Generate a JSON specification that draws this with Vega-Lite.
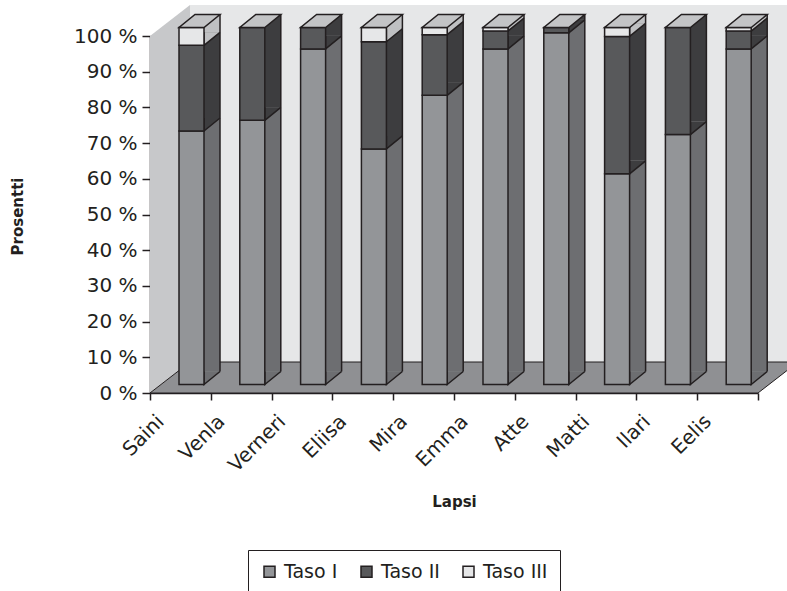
{
  "$schema": "https://vega.github.io/schema/vega-lite/v6.json",
  "width": 608,
  "height": 357,
  "autosize": {"type": "none"},
  "padding": {"left": 150, "top": 36, "right": 29, "bottom": 198},
  "background": "white",
  "config": {
    "view": {"stroke": null},
    "font": "DejaVu Sans",
    "axisY": {
      "title": "Prosentti", "titleFontSize": 15, "titleFontWeight": "bold", "titleColor": "#231f20",
      "titleX": -133, "titleY": 180, "titleAlign": "center", "titleBaseline": "middle", "titleAngle": -90,
      "labelFontSize": 20, "labelColor": "#231f20", "labelPadding": 5,
      "tickSize": 8, "tickColor": "#231f20", "tickWidth": 1.5,
      "domainColor": "#231f20", "domainWidth": 1.5, "grid": false
    }
  },
  "data": {
    "values": [
      {"Lapsi": "Saini", "Taso": "Taso I", "value": 71},
      {"Lapsi": "Saini", "Taso": "Taso II", "value": 24},
      {"Lapsi": "Saini", "Taso": "Taso III", "value": 5},
      {"Lapsi": "Venla", "Taso": "Taso I", "value": 74},
      {"Lapsi": "Venla", "Taso": "Taso II", "value": 26},
      {"Lapsi": "Verneri", "Taso": "Taso I", "value": 94},
      {"Lapsi": "Verneri", "Taso": "Taso II", "value": 6},
      {"Lapsi": "Eliisa", "Taso": "Taso I", "value": 66},
      {"Lapsi": "Eliisa", "Taso": "Taso II", "value": 30},
      {"Lapsi": "Eliisa", "Taso": "Taso III", "value": 4},
      {"Lapsi": "Mira", "Taso": "Taso I", "value": 81},
      {"Lapsi": "Mira", "Taso": "Taso II", "value": 17},
      {"Lapsi": "Mira", "Taso": "Taso III", "value": 2},
      {"Lapsi": "Emma", "Taso": "Taso I", "value": 94},
      {"Lapsi": "Emma", "Taso": "Taso II", "value": 5},
      {"Lapsi": "Emma", "Taso": "Taso III", "value": 1},
      {"Lapsi": "Atte", "Taso": "Taso I", "value": 98.5},
      {"Lapsi": "Atte", "Taso": "Taso II", "value": 1.5},
      {"Lapsi": "Matti", "Taso": "Taso I", "value": 59},
      {"Lapsi": "Matti", "Taso": "Taso II", "value": 38.5},
      {"Lapsi": "Matti", "Taso": "Taso III", "value": 2.5},
      {"Lapsi": "Ilari", "Taso": "Taso I", "value": 70},
      {"Lapsi": "Ilari", "Taso": "Taso II", "value": 30},
      {"Lapsi": "Eelis", "Taso": "Taso I", "value": 94},
      {"Lapsi": "Eelis", "Taso": "Taso II", "value": 5},
      {"Lapsi": "Eelis", "Taso": "Taso III", "value": 1}
    ]
  },
  "transform": [
    {"stack": "value", "groupby": ["Lapsi"], "sort": [{"field": "Taso", "order": "ascending"}], "as": ["v0", "v1"]}
  ],
  "layer": [
    {
      "data": {"values": [{"wall": "side"}]},
      "mark": {"type": "point", "filled": true, "opacity": 1, "size": 4, "fill": "#c7c8ca", "strokeWidth": 0,
               "shape": "M-304,-357 L-264,-388 L-264,-31 L-304,0 Z"},
      "encoding": {"y": {"datum": 0, "type": "quantitative", "scale": {"domain": [0, 100], "nice": false},
                         "axis": {"values": [0, 10, 20, 30, 40, 50, 60, 70, 80, 90, 100], "labelExpr": "datum.value + ' %'", "title": "Prosentti"}}}
    },
    {
      "data": {"values": [{"wall": "back"}]},
      "mark": {"type": "point", "filled": true, "opacity": 1, "size": 4, "fill": "#e6e7e8", "strokeWidth": 0,
               "shape": "M-264,-388 L360,-388 L360,-31 L-264,-31 Z"},
      "encoding": {"y": {"datum": 0, "type": "quantitative",
                         "axis": {"values": [0, 10, 20, 30, 40, 50, 60, 70, 80, 90, 100], "labelExpr": "datum.value + ' %'", "title": "Prosentti"}}}
    },
    {
      "data": {"values": [{"wall": "floor"}]},
      "mark": {"type": "point", "filled": true, "opacity": 1, "size": 4, "fill": "#8f9093", "stroke": "#231f20", "strokeWidth": 1,
               "shape": "M-304,0 L-264,-31 L344,-31 L304,0 Z"},
      "encoding": {"y": {"datum": 0, "type": "quantitative",
                         "axis": {"values": [0, 10, 20, 30, 40, 50, 60, 70, 80, 90, 100], "labelExpr": "datum.value + ' %'", "title": "Prosentti"}}}
    },
    {
      "encoding": {
        "x": {
          "field": "Lapsi", "type": "nominal",
          "sort": ["Saini", "Venla", "Verneri", "Eliisa", "Mira", "Emma", "Atte", "Matti", "Ilari", "Eelis"],
          "scale": {"paddingInner": 0, "paddingOuter": 0},
          "axis": {
            "title": "Lapsi", "titleFontSize": 15, "titleFontWeight": "bold", "titleColor": "#231f20",
            "titleBaseline": "middle", "titleY": 108,
            "tickBand": "extent", "tickSize": 7, "tickColor": "#231f20", "tickWidth": 1.5,
            "domainColor": "#231f20", "domainWidth": 1.5,
            "labelAngle": -45, "labelAlign": "right", "labelBaseline": "middle",
            "labelFontSize": 20, "labelColor": "#231f20", "labelPadding": 18, "labelOffset": -20
          }
        }
      },
      "layer": [
        {
          "mark": {"type": "bar", "size": 16, "xOffset": 31.6, "yOffset": -21.5, "y2Offset": -21.5},
          "encoding": {
            "y": {"field": "v1", "type": "quantitative",
                  "axis": {"values": [0, 10, 20, 30, 40, 50, 60, 70, 80, 90, 100], "labelExpr": "datum.value + ' %'", "title": "Prosentti"}},
            "y2": {"field": "v0"},
            "fill": {"condition": [{"test": "datum.Taso == 'Taso I'", "value": "#6d6e71"}, {"test": "datum.Taso == 'Taso II'", "value": "#3d3d3f"}], "value": "#bfc0c2"}
          }
        },
        {
          "mark": {"type": "point", "filled": true, "opacity": 1, "size": 4, "stroke": "#231f20", "strokeWidth": 1.5,
                   "xOffset": 23.6, "yOffset": -8.5, "shape": "M16,-13 L0,0 L0,-13"},
          "encoding": {
            "y": {"field": "v0", "type": "quantitative",
                  "axis": {"values": [0, 10, 20, 30, 40, 50, 60, 70, 80, 90, 100], "labelExpr": "datum.value + ' %'", "title": "Prosentti"}},
            "fill": {"condition": [{"test": "datum.Taso == 'Taso I'", "value": "#6d6e71"}, {"test": "datum.Taso == 'Taso II'", "value": "#3d3d3f"}], "value": "#bfc0c2"}
          }
        },
        {
          "transform": [{"filter": "datum.Taso == 'Taso I'"}],
          "mark": {"type": "rule", "stroke": "#231f20", "strokeWidth": 1.5, "xOffset": 39.6, "yOffset": -21.5, "y2Offset": -21.5},
          "encoding": {
            "y": {"datum": 100, "type": "quantitative",
                  "axis": {"values": [0, 10, 20, 30, 40, 50, 60, 70, 80, 90, 100], "labelExpr": "datum.value + ' %'", "title": "Prosentti"}},
            "y2": {"datum": 0}
          }
        },
        {
          "mark": {"type": "bar", "size": 25, "xOffset": 11.1, "yOffset": -8.5, "y2Offset": -8.5, "stroke": "#231f20", "strokeWidth": 1.5},
          "encoding": {
            "y": {"field": "v1", "type": "quantitative",
                  "axis": {"values": [0, 10, 20, 30, 40, 50, 60, 70, 80, 90, 100], "labelExpr": "datum.value + ' %'", "title": "Prosentti"}},
            "y2": {"field": "v0"},
            "color": {"field": "Taso", "type": "nominal",
                      "scale": {"domain": ["Taso I", "Taso II", "Taso III"], "range": ["#939598", "#58595b", "#e6e7e8"]},
                      "legend": {
                        "title": null, "orient": "none", "legendX": 98, "legendY": 514, "direction": "horizontal",
                        "strokeColor": "#231f20", "padding": 12, "symbolType": "square", "symbolSize": 121,
                        "symbolStrokeColor": "#231f20", "symbolStrokeWidth": 1.5, "symbolOpacity": 1,
                        "labelFontSize": 19, "labelColor": "#231f20", "labelOffset": 5, "columnPadding": 19
                      }}
          }
        },
        {
          "transform": [{"filter": "datum.Taso == 'Taso I'"}],
          "mark": {"type": "point", "filled": true, "opacity": 1, "size": 4, "fill": "#c3c4c6", "stroke": "#231f20", "strokeWidth": 1.5,
                   "xOffset": -1.4, "yOffset": -8.5, "shape": "M0,0 L25,0 L41,-13 L16,-13 Z"},
          "encoding": {
            "y": {"datum": 100, "type": "quantitative",
                  "axis": {"values": [0, 10, 20, 30, 40, 50, 60, 70, 80, 90, 100], "labelExpr": "datum.value + ' %'", "title": "Prosentti"}}
          }
        }
      ]
    }
  ]
}
